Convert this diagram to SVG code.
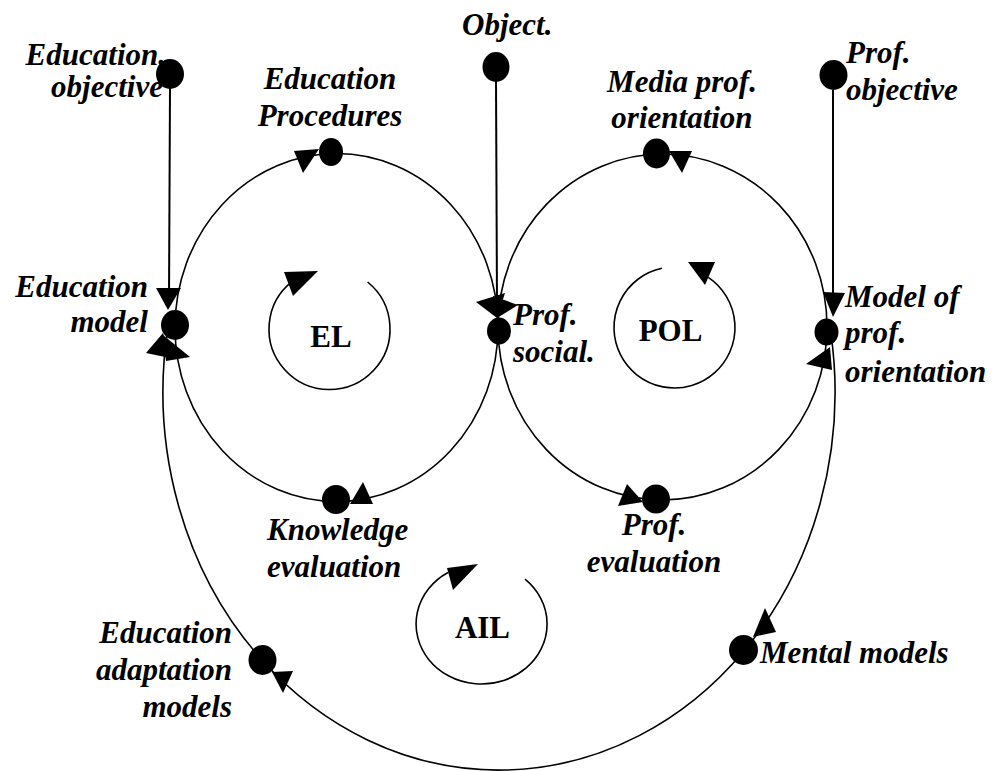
<svg xmlns="http://www.w3.org/2000/svg" width="992" height="771" viewBox="0 0 992 771">
<style>
.bg{fill:#ffffff}
.c{fill:none;stroke:#000;stroke-width:1.6}
.ln{fill:none;stroke:#000;stroke-width:2}
.arr{fill:#000;stroke:none}
.nd{fill:#000}
text{font-family:'Liberation Serif',Tinos,'Times New Roman',Times,'DejaVu Serif',serif;font-size:31px;font-weight:bold;fill:#000}
.t{font-style:italic}
.lp{text-anchor:middle}
</style>
<rect class="bg" x="0" y="0" width="992" height="771"/>
<g id="connectors">
  <path class="ln" d="M170,88 L169,300"/>
  <path class="ln" d="M496,80 L497,305"/>
  <path class="ln" d="M833,90 L833,300"/>
  <path class="c" d="M175,327.5 A161.5 174 0 0 1 336.5,153.5"/>
  <path class="c" d="M336.5,153.5 A161.5 174 0 0 1 498,327.5"/>
  <path class="c" d="M498,327.5 A161.5 174 0 0 1 336.5,501.5"/>
  <path class="c" d="M336.5,501.5 A161.5 174 0 0 1 175,327.5"/>
  <path class="c" d="M498,327 A164.5 173 0 0 0 662.5,500"/>
  <path class="c" d="M662.5,500 A164.5 173 0 0 0 827,327"/>
  <path class="c" d="M827,327 A164.5 173 0 0 0 662.5,154"/>
  <path class="c" d="M662.5,154 A164.5 173 0 0 0 498,327"/>
  <path class="c" d="M830.75,332 A336 378 0 0 1 743,652"/>
  <path class="c" d="M743,652 A336 378 0 0 1 262,660"/>
  <path class="c" d="M262,660 A336 378 0 0 1 168.3,325"/>
  <path class="c" d="M367.6,282 A60.5 60.5 0 1 1 292.3,281.3"/>
  <path class="c" d="M661.9,268.3 A60.5 60.5 0 1 0 708.3,277.3"/>
  <path class="c" d="M525,579.1 A65.5 60 0 1 1 448,572.5"/>
  <polygon class="arr" points="156,288 181,288 168,310"/>
  <polygon class="arr" points="294,151 319,149 303,173"/>
  <polygon class="arr" points="476,302 505,293 497,318"/>
  <polygon class="arr" points="493,296 518,305 497,318"/>
  <polygon class="arr" points="669,151 692,151 682,173"/>
  <polygon class="arr" points="618,506 627,484 643,502"/>
  <polygon class="arr" points="806,364 830,347 832,370"/>
  <polygon class="arr" points="823,292 845,293 833,317"/>
  <polygon class="arr" points="765,608 776,632 753,637"/>
  <polygon class="arr" points="272,672 293,671 283,693"/>
  <polygon class="arr" points="146,353 163,333 170,358"/>
  <polygon class="arr" points="163,335 190,357 166,361"/>
  <polygon class="arr" points="350,504 363,482 373,504"/>
  <polygon class="arr" points="284,272 318,271 293,296"/>
  <polygon class="arr" points="688,262 715,262 705,285"/>
  <polygon class="arr" points="447,568 478,564 453,590"/>
</g>
<g id="loop-EL"><text class="lp" x="331" y="347">EL</text></g>
<g id="loop-POL"><text class="lp" x="670.5" y="341">POL</text></g>
<g id="loop-AIL"><text class="lp" x="482.5" y="638">AIL</text></g>
<g id="n-edu-objective">
  <text class="t" x="166" y="65" text-anchor="end">Education.</text>
  <text class="t" x="163" y="97" text-anchor="end">objective</text>
  <ellipse class="nd" cx="170" cy="74" rx="14" ry="15"/>
</g>
<g id="n-object">
  <text class="t" x="462" y="35">Object.</text>
  <ellipse class="nd" cx="496" cy="67" rx="13.5" ry="15"/>
</g>
<g id="n-prof-objective">
  <text class="t" x="846" y="63">Prof.</text>
  <text class="t" x="846" y="100">objective</text>
  <ellipse class="nd" cx="833.5" cy="75" rx="14" ry="15"/>
</g>
<g id="n-edu-procedures">
  <text class="t" x="330" y="89" text-anchor="middle">Education</text>
  <text class="t" x="330" y="126" text-anchor="middle">Procedures</text>
  <ellipse class="nd" cx="331" cy="152" rx="12" ry="14"/>
</g>
<g id="n-media-prof">
  <text class="t" x="682" y="92" text-anchor="middle">Media prof.</text>
  <text class="t" x="682" y="128" text-anchor="middle">orientation</text>
  <ellipse class="nd" cx="656.5" cy="153.5" rx="13.5" ry="15"/>
</g>
<g id="n-edu-model">
  <text class="t" x="148" y="297" text-anchor="end">Education</text>
  <text class="t" x="148" y="332" text-anchor="end">model</text>
  <ellipse class="nd" cx="175" cy="325" rx="14" ry="15"/>
</g>
<g id="n-prof-social">
  <text class="t" x="513" y="325">Prof.</text>
  <text class="t" x="513" y="362">social.</text>
  <ellipse class="nd" cx="499" cy="331" rx="12" ry="13.5"/>
</g>
<g id="n-model-prof">
  <text class="t" x="845" y="307">Model of</text>
  <text class="t" x="845" y="343">prof.</text>
  <text class="t" x="845" y="382">orientation</text>
  <ellipse class="nd" cx="826.5" cy="332" rx="12" ry="13.5"/>
</g>
<g id="n-knowledge-eval">
  <text class="t" x="267" y="540">Knowledge</text>
  <text class="t" x="267" y="577">evaluation</text>
  <ellipse class="nd" cx="336" cy="499.5" rx="14" ry="14.5"/>
</g>
<g id="n-prof-eval">
  <text class="t" x="654" y="535" text-anchor="middle">Prof.</text>
  <text class="t" x="654" y="572" text-anchor="middle">evaluation</text>
  <ellipse class="nd" cx="656" cy="499" rx="14" ry="14.5"/>
</g>
<g id="n-edu-adaptation">
  <text class="t" x="232" y="643" text-anchor="end">Education</text>
  <text class="t" x="232" y="680" text-anchor="end">adaptation</text>
  <text class="t" x="232" y="717" text-anchor="end">models</text>
  <ellipse class="nd" cx="262.5" cy="660" rx="14" ry="15"/>
</g>
<g id="n-mental-models">
  <text class="t" x="760" y="663">Mental models</text>
  <ellipse class="nd" cx="743.5" cy="650" rx="14.5" ry="15"/>
</g>
</svg>
